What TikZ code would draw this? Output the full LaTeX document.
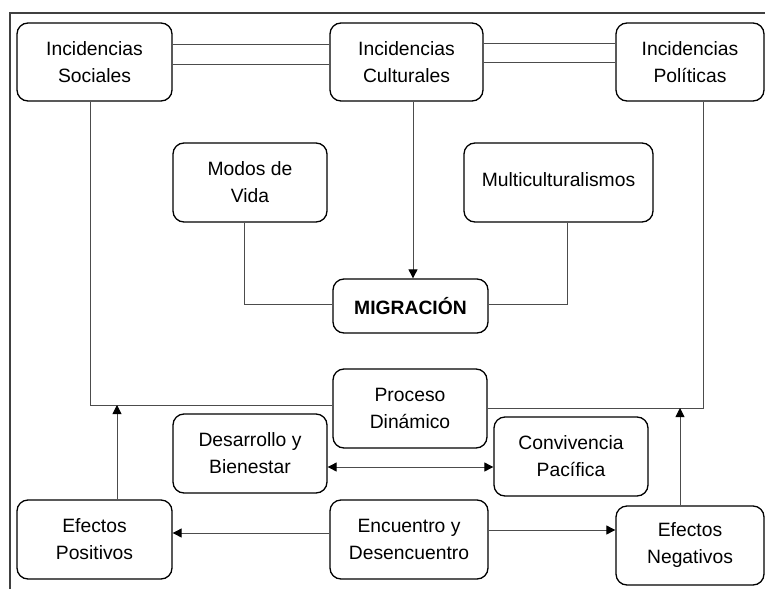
\documentclass[tikz,border=0pt]{standalone}
\usepackage{fontspec}
\setmainfont{Liberation Sans}
\usetikzlibrary{arrows.meta}
\begin{document}
\begin{tikzpicture}[x=1pt,y=-1pt,
  box/.style={draw=black,line width=1.3pt,rounded corners=11pt,align=center,
    font=\fontsize{19.3}{27}\selectfont,inner sep=0pt},
  conn/.style={draw=black!70,line width=0.9pt},
  tip/.tip={Triangle[length=9pt,width=9pt,color=black]},
  arr/.style={conn,-tip},
  frame/.style={draw=black!75,line width=1.4pt}]
\useasboundingbox (0,0) rectangle (765,589);
\draw[frame] (10,589) -- (10,13) -- (766,13);
% top row
\node[box,minimum width=155,minimum height=78] (soc) at (94.5,62) {Incidencias\\Sociales};
\node[box,minimum width=153,minimum height=78] (cul) at (406.5,62) {Incidencias\\Culturales};
\node[box,minimum width=148,minimum height=78] (pol) at (690,62) {Incidencias\\Políticas};
% middle
\node[box,minimum width=154,minimum height=79] (modos) at (250,182.5) {Modos de\\Vida};
\node[box,minimum width=189,minimum height=79] (multi) at (558.5,182.5) {\raisebox{5.5pt}{Multiculturalismos}};
\node[box,minimum width=155,minimum height=54] (mig) at (410.5,306) {\bfseries MIGRACIÓN};
\node[box,minimum width=154,minimum height=79] (proc) at (410,408.5) {Proceso\\Dinámico};
\node[box,minimum width=154,minimum height=79] (des) at (250,453.5) {Desarrollo y\\Bienestar};
\node[box,minimum width=154,minimum height=79] (conv) at (571,456.5) {Convivencia\\Pacífica};
% bottom
\node[box,minimum width=155,minimum height=79] (pos) at (94.5,539.5) {Efectos\\Positivos};
\node[box,minimum width=158,minimum height=79] (enc) at (409,539.5) {Encuentro y\\Desencuentro};
\node[box,minimum width=148,minimum height=79] (neg) at (690,545.5) {Efectos\\Negativos};
% coordinates
\coordinate (pj) at (117,405);
\coordinate (nj) at (680,408);
% double lines
\draw[conn] ([yshift=18pt]soc.east) -- ([yshift=18pt]cul.west);
\draw[conn] ([yshift=-2pt]soc.east) -- ([yshift=-2pt]cul.west);
\draw[conn] ([yshift=19pt]cul.east) -- ([yshift=19pt]pol.west);
\draw[conn] ([yshift=0pt]cul.east) -- ([yshift=0pt]pol.west);
% verticals
\draw[conn] ([xshift=-4.5pt]soc.south) |- ([yshift=3.5pt]proc.west);
\draw[conn] ([xshift=13pt]pol.south) |- ([yshift=0.5pt]proc.east);
\draw[arr] ([xshift=6.5pt]cul.south) -- ([xshift=2.5pt]mig.north);
\draw[conn] ([xshift=-6pt]modos.south) |- ([yshift=2pt]mig.west);
\draw[conn] ([xshift=8.5pt]multi.south) |- ([yshift=2pt]mig.east);
% lower arrows
\draw[conn,tip-tip] ([yshift=-13.5pt]des.east) -- ([yshift=-10.5pt]conv.west);
\draw[arr] ([yshift=6.5pt]enc.west) -- ([yshift=6.5pt]pos.east);
\draw[arr] ([yshift=9.5pt]enc.east) -- ([yshift=15.5pt]neg.west);
\draw[arr] ([xshift=22.5pt]pos.north) -- (pj);
\draw[arr] ([xshift=-10pt]neg.north) -- (nj);
\end{tikzpicture}
\end{document}
